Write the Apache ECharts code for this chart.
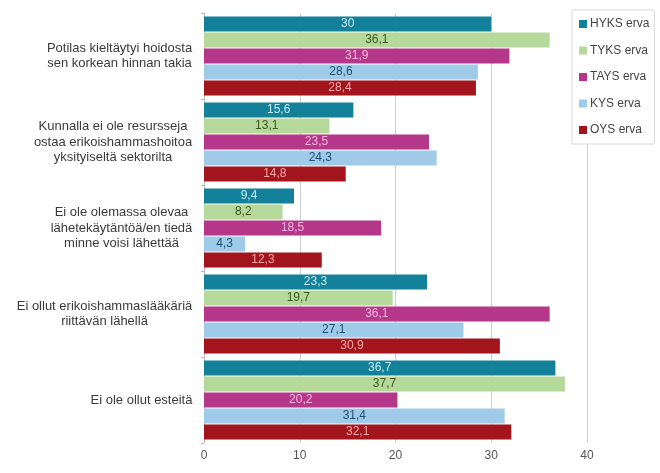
<!DOCTYPE html>
<html><head><meta charset="utf-8">
<script src="https://cdn.jsdelivr.net/npm/echarts@6/dist/echarts.min.js"></script>
<style>html,body{margin:0;padding:0;background:#fff}#c{width:660px;height:473px}</style>
</head><body><div id="c"></div>
<script>
var categories = [
  "Potilas kieltäytyi hoidosta\nsen korkean hinnan takia",
  "Kunnalla ei ole resursseja\nostaa erikoishammashoitoa\nyksityiseltä sektorilta",
  "Ei ole olemassa olevaa\nlähetekäytäntöä/en tiedä\nminne voisi lähettää",
  "Ei ollut erikoishammaslääkäriä\nriittävän lähellä",
  "Ei ole ollut esteitä"
];
var seriesNames = ["HYKS erva", "TYKS erva", "TAYS erva", "KYS erva", "OYS erva"];
var hyks = [30, 15.6, 9.4, 23.3, 36.7];
var tyks = [36.1, 13.1, 8.2, 19.7, 37.7];
var tays = [31.9, 23.5, 18.5, 36.1, 20.2];
var kys  = [28.6, 24.3, 4.3, 27.1, 31.4];
var oys  = [28.4, 14.8, 12.3, 30.9, 32.1];
var xTicks = [0, 10, 20, 30, 40];

var values = [hyks, tyks, tays, kys, oys];
var colors = ['#14819a', '#b5d99a', '#b5378a', '#9fcbe8', '#a2151d'];
var labelColors = ['#c4ecf3', '#3c5a1c', '#f7b8de', '#1d4e78', '#f7a8a8'];

var FONT_FAMILY = 'Liberation Sans, Arial, sans-serif';
var CAT_FONT_SIZE = 13;
var ctx = document.createElement('canvas').getContext('2d');
ctx.font = CAT_FONT_SIZE + 'px ' + FONT_FAMILY;
var rich = {};
categories.forEach(function (c, i) {
  var w = 0;
  c.split('\n').forEach(function (l) { w = Math.max(w, ctx.measureText(l).width); });
  rich['c' + i] = { width: Math.ceil(w) + 1, align: 'center', fontSize: CAT_FONT_SIZE, fontFamily: FONT_FAMILY, color: '#3a3a3a', lineHeight: 15.5 };
});

var chart = echarts.init(document.getElementById('c'), null, { renderer: 'canvas' });
chart.setOption({
  animation: false,
  backgroundColor: '#fff',
  textStyle: { fontFamily: FONT_FAMILY },
  grid: { left: 204, right: 73, top: 13, bottom: 30, containLabel: false },
  legend: {
    orient: 'vertical', left: 572, top: 10,
    data: seriesNames,
    icon: 'rect', itemWidth: 8, itemHeight: 8, itemGap: 14.5,
    padding: [8, 5, 8, 7],
    borderColor: '#d8d8d8', borderWidth: 1, backgroundColor: '#fff',
    textStyle: { fontSize: 12, color: '#444', fontFamily: FONT_FAMILY, padding: [0, 0, 0, -2] },
    z: 10
  },
  xAxis: {
    type: 'value', min: xTicks[0], max: xTicks[xTicks.length - 1], interval: 10,
    axisLine: { show: false }, axisTick: { show: false },
    axisLabel: { fontSize: 12, color: '#555', margin: 7 },
    splitLine: { show: true, lineStyle: { color: '#cfcfcf', width: 1 } }
  },
  yAxis: {
    type: 'category', data: categories, inverse: true,
    axisLine: { show: true, lineStyle: { color: '#bdbdbd' } },
    axisTick: { show: true, length: 3, lineStyle: { color: '#bdbdbd' } },
    axisLabel: {
      margin: 11,
      formatter: function (v, i) {
        return v.split('\n').map(function (l) { return '{c' + i + '|' + l + '}'; }).join('\n');
      },
      rich: rich
    }
  },
  series: values.map(function (arr, k) {
    return {
      name: seriesNames[k], type: 'bar', data: arr,
      barWidth: 15, barGap: '7%',
      itemStyle: { color: colors[k] },
      label: {
        show: true, position: 'inside', color: labelColors[k], fontSize: 12,
        fontFamily: FONT_FAMILY,
        formatter: function (p) { return String(p.value).replace('.', ','); }
      }
    };
  })
});
</script></body></html>
